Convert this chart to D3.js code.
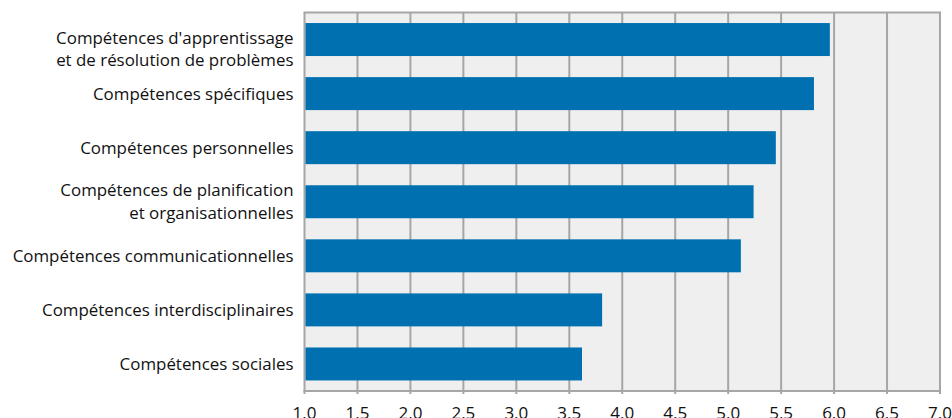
<!DOCTYPE html>
<html>
<head>
<meta charset="utf-8">
<script src="https://cdn.jsdelivr.net/npm/d3@7"></script>
<style>
  body { margin: 0; background: #fff; }
  text { font-family: "Open Sans", "DejaVu Sans", sans-serif; fill: #111; }
</style>
</head>
<body>
<svg id="svg"></svg>
<script>
// categories, top to bottom (labels split on "|" for two lines)
let categories = [
  "Compétences d'apprentissage|et de résolution de problèmes",
  "Compétences spécifiques",
  "Compétences personnelles",
  "Compétences de planification|et organisationnelles",
  "Compétences communicationnelles",
  "Compétences interdisciplinaires",
  "Compétences sociales"
];
let values = [5.96, 5.81, 5.45, 5.24, 5.12, 3.81, 3.62];
let ticks = [1.0, 1.5, 2.0, 2.5, 3.0, 3.5, 4.0, 4.5, 5.0, 5.5, 6.0, 6.5, 7.0];

let width = 952, height = 418;
let margin = { top: 12.5, right: 12, bottom: 27, left: 304.5 };

let svg = d3.select("#svg").attr("width", width).attr("height", height);

let x = d3.scaleLinear()
          .domain([1, 7])
          .range([margin.left, width - margin.right]);

let y = d3.scaleBand()
          .domain(categories)
          .range([margin.top, height - margin.bottom])
          .paddingInner(0.39)
          .paddingOuter(0.195);

let plotBottom = height - margin.bottom;

// background
svg.append("rect")
   .attr("x", x(1)).attr("y", margin.top)
   .attr("width", x(7) - x(1)).attr("height", plotBottom - margin.top)
   .attr("fill", "#efefef");

// vertical grid lines
svg.selectAll("line.grid")
   .data(ticks)
   .enter()
   .append("line")
   .attr("class", "grid")
   .attr("x1", d => x(d)).attr("x2", d => x(d))
   .attr("y1", margin.top).attr("y2", plotBottom + 3)
   .attr("stroke", "#a6a6a6")
   .attr("stroke-width", 2);

// top and bottom border
svg.append("line")
   .attr("x1", x(1) - 1).attr("x2", x(7) + 1)
   .attr("y1", margin.top).attr("y2", margin.top)
   .attr("stroke", "#a6a6a6").attr("stroke-width", 2);
svg.append("line")
   .attr("x1", x(1) - 1).attr("x2", x(7) + 1)
   .attr("y1", plotBottom).attr("y2", plotBottom)
   .attr("stroke", "#a6a6a6").attr("stroke-width", 2);

// bars
svg.selectAll("rect.bar")
   .data(categories)
   .enter()
   .append("rect")
   .attr("class", "bar")
   .attr("x", x(1) + 1)
   .attr("y", d => y(d))
   .attr("width", (d, i) => x(values[i]) - x(1) - 1)
   .attr("height", y.bandwidth())
   .attr("fill", "#0070b0");

// category labels
let lineH = 22.5;
svg.selectAll("text.cat")
   .data(categories)
   .enter()
   .append("text")
   .attr("class", "cat")
   .attr("text-anchor", "end")
   .attr("font-size", "16.9px")
   .each(function(d) {
     let lines = d.split("|");
     let cy = y(d) + y.bandwidth() / 2;
     let first = cy - (lines.length - 1) * lineH / 2;
     first = Math.max(first, 38);
     for (let i = 0; i < lines.length; ++i) {
       d3.select(this).append("tspan")
         .attr("x", x(1) - 11)
         .attr("y", first + i * lineH)
         .attr("dy", "0.35em")
         .text(lines[i]);
     }
   });

// tick labels
svg.selectAll("text.tick")
   .data(ticks)
   .enter()
   .append("text")
   .attr("class", "tick")
   .attr("text-anchor", "middle")
   .attr("font-size", "17px")
   .attr("x", d => x(d))
   .attr("y", 419)
   .text(d => d.toFixed(1));
</script>
</body>
</html>
